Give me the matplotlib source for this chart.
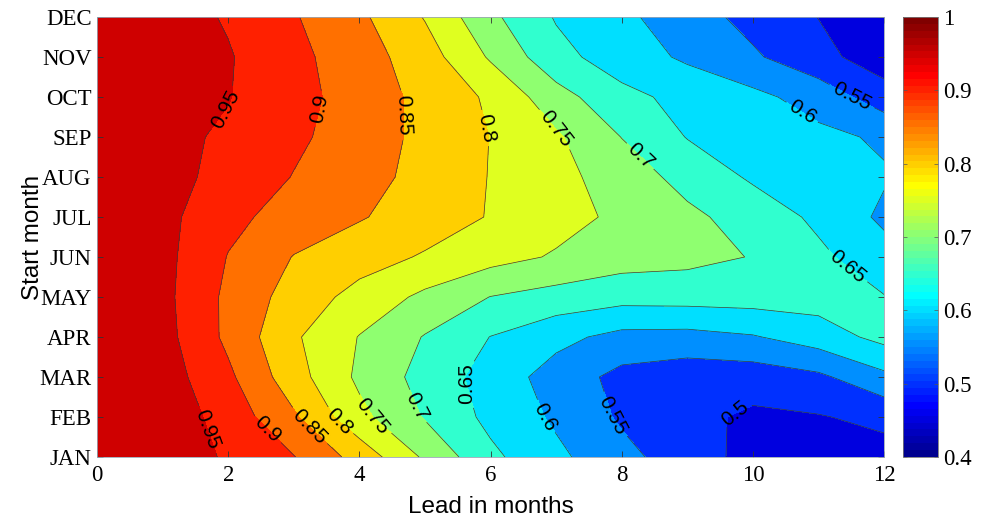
import numpy as np
import matplotlib
matplotlib.use("Agg")
import matplotlib.pyplot as plt
from matplotlib.colors import ListedColormap, Normalize
from matplotlib.cm import ScalarMappable

MONTHS = ["JAN", "FEB", "MAR", "APR", "MAY", "JUN",
          "JUL", "AUG", "SEP", "OCT", "NOV", "DEC"]
LEADS = [0, 1, 2, 3, 4, 5, 6, 7, 8, 9, 10, 11, 12]
LEVELS = [0.40, 0.45, 0.50, 0.55, 0.60, 0.65, 0.70,
          0.75, 0.80, 0.85, 0.90, 0.95, 1.00]
XTICKS = [0, 2, 4, 6, 8, 10, 12]
CBAR_TICKS = [0.4, 0.5, 0.6, 0.7, 0.8, 0.9, 1.0]
CBAR_LABELS = ["0.4", "0.5", "0.6", "0.7", "0.8", "0.9", "1"]

# correlation skill, one row per start month, columns = lead 0..12
SKILL_JAN = [0.990, 0.975, 0.945, 0.902, 0.831, 0.742, 0.661, 0.611, 0.565, 0.523, 0.484, 0.475, 0.482]
SKILL_FEB = [0.990, 0.982, 0.930, 0.857, 0.764, 0.696, 0.637, 0.592, 0.543, 0.514, 0.491, 0.497, 0.512]
SKILL_MAR = [0.985, 0.975, 0.910, 0.821, 0.740, 0.682, 0.629, 0.579, 0.535, 0.520, 0.522, 0.540, 0.588]
SKILL_APR = [0.980, 0.968, 0.889, 0.807, 0.748, 0.697, 0.649, 0.614, 0.585, 0.583, 0.596, 0.625, 0.665]
SKILL_MAY = [0.980, 0.964, 0.889, 0.829, 0.783, 0.739, 0.699, 0.681, 0.668, 0.670, 0.672, 0.672, 0.652]
SKILL_JUN = [0.980, 0.965, 0.898, 0.848, 0.821, 0.795, 0.768, 0.745, 0.722, 0.714, 0.698, 0.660, 0.620]
SKILL_JUL = [0.980, 0.965, 0.913, 0.880, 0.854, 0.826, 0.797, 0.768, 0.740, 0.711, 0.679, 0.640, 0.590]
SKILL_AUG = [0.985, 0.968, 0.934, 0.898, 0.868, 0.835, 0.798, 0.765, 0.727, 0.683, 0.643, 0.624, 0.605]
SKILL_SEP = [0.985, 0.965, 0.942, 0.910, 0.875, 0.838, 0.799, 0.757, 0.699, 0.648, 0.631, 0.612, 0.593]
SKILL_OCT = [0.990, 0.975, 0.952, 0.917, 0.878, 0.836, 0.792, 0.720, 0.664, 0.635, 0.613, 0.579, 0.523]
SKILL_NOV = [0.990, 0.975, 0.954, 0.913, 0.873, 0.823, 0.744, 0.666, 0.625, 0.592, 0.557, 0.516, 0.472]
SKILL_DEC = [0.990, 0.975, 0.945, 0.904, 0.860, 0.797, 0.711, 0.646, 0.611, 0.572, 0.534, 0.499, 0.465]

SERIF = "Liberation Serif"
SANS = "Liberation Sans"


def matlab_jet(n=64):
    x = (np.arange(n) + 1) / n
    r = np.clip(1.5 - np.abs(4 * x - 3), 0, 1)
    g = np.clip(1.5 - np.abs(4 * x - 2), 0, 1)
    b = np.clip(1.5 - np.abs(4 * x - 1), 0, 1)
    return np.column_stack([r, g, b])


def main():
    skill = np.array([SKILL_JAN, SKILL_FEB, SKILL_MAR, SKILL_APR, SKILL_MAY, SKILL_JUN,
                      SKILL_JUL, SKILL_AUG, SKILL_SEP, SKILL_OCT, SKILL_NOV, SKILL_DEC])
    month_pos = np.arange(1, len(MONTHS) + 1)
    X, Y = np.meshgrid(LEADS, month_pos)

    jet = matlab_jet(64)
    vmin, vmax = LEVELS[0], LEVELS[-1]
    fill_colors = []
    for lev in LEVELS[:-1]:
        idx = int(np.floor((lev - vmin) / (vmax - vmin) * 64 + 1e-9))
        fill_colors.append(jet[min(idx, 63)])

    fig = plt.figure(figsize=(9.86, 5.19), dpi=100)
    ax = fig.add_axes([0.0984, 0.1195, 0.7982, 0.8477])
    cax = fig.add_axes([0.9158, 0.1195, 0.0355, 0.8477])

    ax.contourf(X, Y, skill, levels=LEVELS, colors=fill_colors)
    cs = ax.contour(X, Y, skill, levels=LEVELS, colors="#3a3a3a", linewidths=0.5)

    label_spots = [
        (1.95, 9.7), (3.4, 9.7), (4.74, 9.55), (5.99, 9.25), (7.03, 9.25),
        (8.23, 8.43), (10.82, 9.8), (11.55, 10.15), (11.4, 5.68),
        (5.56, 2.8), (1.88, 1.8), (2.67, 1.8), (3.25, 1.8), (3.74, 1.98),
        (4.24, 2.05), (4.77, 2.18), (6.72, 1.93), (7.77, 1.98), (9.7, 2.18),
    ]
    labels = ax.clabel(cs, manual=label_spots, inline=True, inline_spacing=2,
                       fontsize=15, colors="black", fmt=lambda v: f"{v:g}")
    for t in labels:
        t.set_fontfamily(SANS)

    ax.set_xlim(0, 12)
    ax.set_ylim(1, 12)
    ax.set_xticks(XTICKS)
    ax.set_yticks(month_pos)
    ax.set_yticklabels(MONTHS)
    ax.tick_params(direction="in", length=4, width=0.6, top=True, right=True,
                   labelsize=16.5, color="#333333")
    ax.tick_params(axis="y", pad=4)
    ax.tick_params(axis="x", pad=6)
    for lab in ax.get_xticklabels() + ax.get_yticklabels():
        lab.set_fontfamily(SERIF)
    for spine in ax.spines.values():
        spine.set_linewidth(0.6)
        spine.set_color("#9aa6b4")

    ax.set_xlabel("Lead in months", fontsize=17.5, fontfamily=SANS, labelpad=7)
    ax.set_ylabel("Start month", fontsize=17.5, fontfamily=SANS, labelpad=-3)

    sm = ScalarMappable(norm=Normalize(vmin=vmin, vmax=vmax), cmap=ListedColormap(jet))
    cb = fig.colorbar(sm, cax=cax, ticks=CBAR_TICKS)
    cb.ax.set_yticklabels(CBAR_LABELS)
    cb.ax.tick_params(direction="in", length=3, width=0.5, labelsize=16.5,
                      left=True, right=True, color="#555555")
    for lab in cb.ax.get_yticklabels():
        lab.set_fontfamily(SERIF)
    cb.outline.set_linewidth(0.6)
    cb.outline.set_edgecolor("#777777")

    fig.savefig("out.png", dpi=100)
    plt.close(fig)


if __name__ == "__main__":
    main()
